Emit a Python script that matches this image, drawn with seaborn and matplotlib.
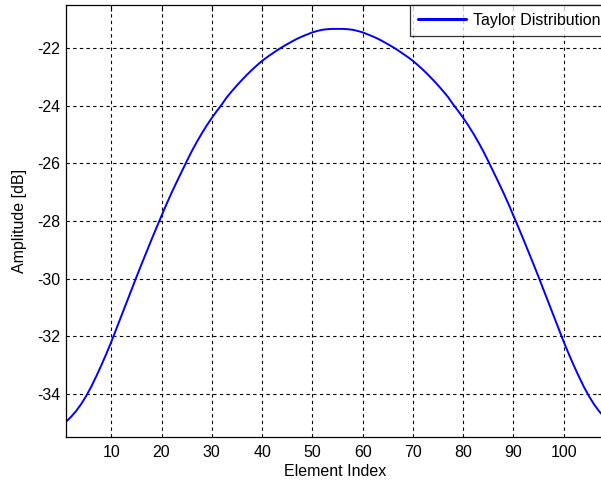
import matplotlib
matplotlib.use("Agg")
import matplotlib.pyplot as plt
import seaborn as sns
import pandas as pd

element_index = list(range(1, 109))
amplitude_db = [
    -34.97, -34.80, -34.60, -34.36, -34.08, -33.76, -33.40, -33.02, -32.62, -32.20,
    -31.75, -31.30, -30.85, -30.40, -29.95, -29.51, -29.08, -28.65, -28.23, -27.82,
    -27.41, -27.02, -26.65, -26.29, -25.93, -25.58, -25.26, -24.96, -24.68, -24.42,
    -24.18, -23.95, -23.70, -23.49, -23.29, -23.10, -22.92, -22.75, -22.59, -22.44,
    -22.31, -22.19, -22.07, -21.96, -21.86, -21.76, -21.67, -21.59, -21.52, -21.45,
    -21.40, -21.36, -21.34, -21.33, -21.33,
    -21.33, -21.34, -21.36, -21.40, -21.45, -21.52, -21.59, -21.67, -21.76, -21.86,
    -21.96, -22.07, -22.19, -22.31, -22.44, -22.59, -22.75, -22.92, -23.10, -23.29,
    -23.49, -23.70, -23.95, -24.18, -24.42, -24.68, -24.96, -25.26, -25.58, -25.93,
    -26.29, -26.65, -27.02, -27.41, -27.82, -28.23, -28.65, -29.08, -29.51, -29.95,
    -30.40, -30.85, -31.30, -31.75, -32.20, -32.62, -33.02, -33.40, -33.76, -34.08,
    -34.36, -34.60, -34.80,
]
x_ticks = [10, 20, 30, 40, 50, 60, 70, 80, 90, 100]
y_ticks = [-34, -32, -30, -28, -26, -24, -22]
series_name = "Taylor Distribution"

df = pd.DataFrame({"Element Index": element_index, "Amplitude": amplitude_db,
                   "series": series_name})

sns.set_style("white")
plt.rcParams['font.family'] = ['Liberation Sans', 'DejaVu Sans']
plt.rcParams['axes.unicode_minus'] = False
plt.rcParams['text.color'] = 'black'
plt.rcParams['axes.labelcolor'] = 'black'
plt.rcParams['xtick.color'] = 'black'
plt.rcParams['ytick.color'] = 'black'

FS = 11.5

fig = plt.figure(figsize=(6.01, 4.84), dpi=100)
ax = fig.add_axes([66 / 601, 47 / 484, 538 / 601, 432 / 484])

sns.lineplot(data=df, x="Element Index", y="Amplitude", hue="series",
             palette=["#0000ff"], linewidth=1.4, ax=ax)

ax.set_xlim(1, 108)
ax.set_ylim(-35.5, -20.5)
ax.set_xticks(x_ticks)
ax.set_yticks(y_ticks)
ax.grid(True, color="black", linestyle=(0, (3, 3)), linewidth=0.8)
ax.tick_params(direction="in", length=4, width=0.8, colors="black",
               labelsize=FS, top=True, right=True, pad=6)
ax.tick_params(axis="y", pad=4)
for s in ax.spines.values():
    s.set_color("black")
    s.set_linewidth(0.9)
    s.set_visible(True)
ax.set_xlabel("Element Index", fontsize=FS, labelpad=3)
ax.set_ylabel("Amplitude [dB]", fontsize=FS, labelpad=7)

leg = ax.legend(loc="upper right", bbox_to_anchor=(1.0 + 4 / 538, 1.0),
                borderaxespad=0, fontsize=FS,
                frameon=True, fancybox=False, handlelength=3.0,
                handletextpad=0.4, borderpad=0.5)
leg.get_frame().set_edgecolor("black")
leg.get_frame().set_linewidth(0.9)
for line in leg.get_lines():
    line.set_linewidth(2.2)

fig.savefig("out.png", dpi=100, facecolor="white")
